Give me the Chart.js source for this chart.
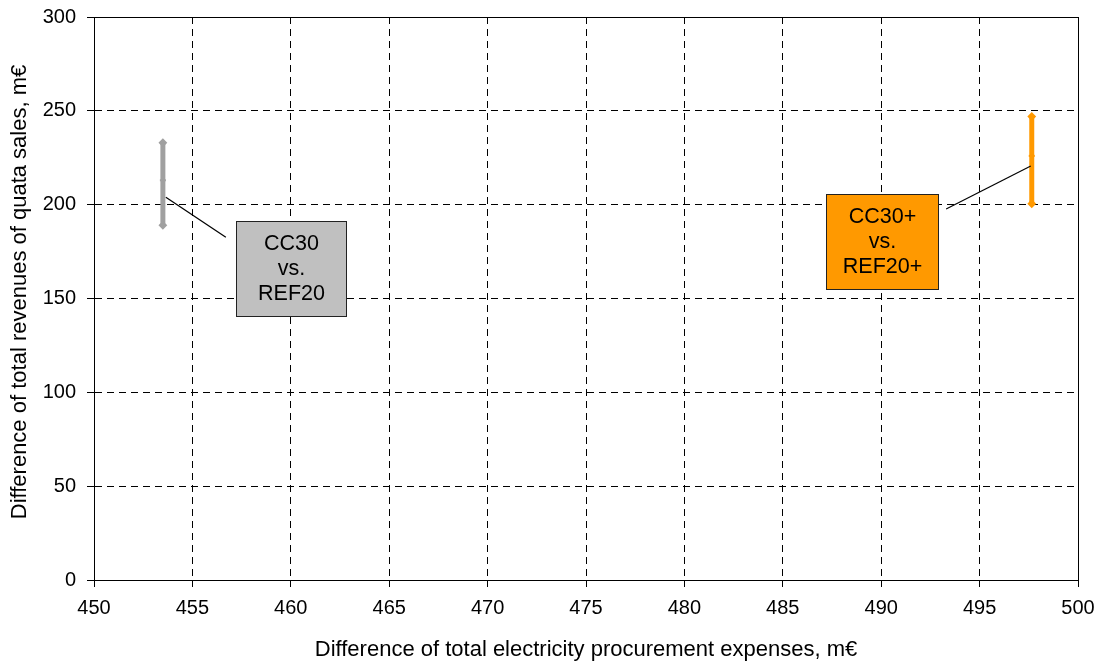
<!DOCTYPE html>
<html>
<head>
<meta charset="utf-8">
<script src="https://cdn.jsdelivr.net/npm/chart.js@4"></script>
<style>
  html, body { margin: 0; padding: 0; background: #fff; }
  #wrap { width: 1107px; height: 667px; }
</style>
</head>
<body>
<div id="wrap"><canvas id="chart" width="1107" height="667"></canvas></div>
<script>
// series values
const seriesNames = ['CC30 vs. REF20', 'CC30+ vs. REF20+'];
const xValues = [453.5, 497.65];
const lowValues = [189, 200.5];
const midValues = [213, 226];
const highValues = [233, 247];
const boxLabels = [['CC30', 'vs.', 'REF20'], ['CC30+', 'vs.', 'REF20+']];
const barColors = ['#a0a0a0', '#ff9900'];
const boxColors = ['#c0c0c0', '#ff9900'];
const yTitle = 'Difference of total revenues of quata sales, m€';
const xTitle = 'Difference of total electricity procurement expenses, m€';

const FONT = '"Liberation Sans", Arial, sans-serif';

const datasets = seriesNames.map((name, i) => ({
    label: name,
    data: [
        {x: xValues[i], y: lowValues[i]},
        {x: xValues[i], y: midValues[i]},
        {x: xValues[i], y: highValues[i]}
    ],
    showLine: true,
    borderColor: barColors[i],
    borderWidth: 5,
    pointStyle: ['rectRot', 'line', 'rectRot'],
    pointRadius: 3,
    pointBorderWidth: 2,
    pointBackgroundColor: barColors[i],
    pointBorderColor: barColors[i]
}));

// callout boxes, frame and the y axis title
const calloutPlugin = {
    id: 'callouts',
    afterDatasetsDraw(chart, args, opts) {
        const ctx = chart.ctx;
        const xs = chart.scales.x, ys = chart.scales.y;
        const a = chart.chartArea;
        ctx.save();
        ctx.strokeStyle = '#000';
        ctx.lineWidth = 1;
        ctx.setLineDash([]);
        ctx.strokeRect(a.left + 0.5, a.top + 0.5, a.right - a.left, a.bottom - a.top);
        opts.boxes.forEach((b, i) => {
            ctx.beginPath();
            ctx.moveTo(xs.getPixelForValue(b.lx1), ys.getPixelForValue(b.ly1));
            ctx.lineTo(xs.getPixelForValue(b.lx2), ys.getPixelForValue(b.ly2));
            ctx.strokeStyle = '#000';
            ctx.lineWidth = 1.2;
            ctx.stroke();
            const x1 = Math.round(xs.getPixelForValue(b.x1)) + 0.5;
            const x2 = Math.round(xs.getPixelForValue(b.x2)) + 0.5;
            const y1 = Math.round(ys.getPixelForValue(b.y1)) + 0.5;
            const y2 = Math.round(ys.getPixelForValue(b.y2)) + 0.5;
            ctx.fillStyle = boxColors[i];
            ctx.fillRect(x1, y1, x2 - x1, y2 - y1);
            ctx.strokeStyle = '#222';
            ctx.lineWidth = 1;
            ctx.strokeRect(x1, y1, x2 - x1, y2 - y1);
            ctx.fillStyle = '#000';
            ctx.font = '21.5px ' + FONT;
            ctx.textAlign = 'center';
            ctx.textBaseline = 'middle';
            const cx = (x1 + x2) / 2, cy = (y1 + y2) / 2;
            const lines = boxLabels[i];
            lines.forEach((t, k) => {
                ctx.fillText(t, cx, cy + (k - (lines.length - 1) / 2) * 25);
            });
        });
        // y axis title
        ctx.translate(opts.yTitleX, opts.yTitleY);
        ctx.rotate(-Math.PI / 2);
        ctx.font = '22px ' + FONT;
        ctx.fillStyle = '#000';
        ctx.textAlign = 'center';
        ctx.textBaseline = 'middle';
        ctx.fillText(yTitle, 0, 0);
        ctx.restore();
    }
};

new Chart(document.getElementById('chart'), {
    type: 'scatter',
    data: {datasets: datasets},
    plugins: [calloutPlugin],
    options: {
        responsive: false,
        animation: false,
        layout: {padding: {top: 17, right: 29, left: 0, bottom: 0}},
        plugins: {
            legend: {display: false},
            tooltip: {enabled: false},
            callouts: {
                yTitleX: 20,
                yTitleY: 292,
                boxes: [
                    {x1: 457.2, x2: 462.8, y1: 191.3, y2: 140.7, lx1: 453.65, ly1: 204, lx2: 456.7, ly2: 182.7},
                    {x1: 487.2, x2: 492.9, y1: 205.6, y2: 155.0, lx1: 497.6, ly1: 220.6, lx2: 493.3, ly2: 197.7}
                ]
            }
        },
        scales: {
            x: {
                type: 'linear',
                min: 450, max: 500,
                afterFit: s => { s.height = 87; },
                ticks: {stepSize: 5, color: '#000', font: {family: FONT, size: 20}, padding: 9, maxRotation: 0},
                grid: {color: '#000', lineWidth: 1, tickLength: 7, tickColor: '#000'},
                border: {color: '#000', width: 1, dash: [7, 5]},
                title: {display: true, text: xTitle, color: '#000', font: {family: FONT, size: 22}, padding: {top: 6}}
            },
            y: {
                type: 'linear',
                min: 0, max: 300,
                afterFit: s => { s.width = 94; s.paddingTop = 0; s.paddingBottom = 0; },
                ticks: {stepSize: 50, color: '#000', font: {family: FONT, size: 20}, padding: 11},
                grid: {color: '#000', lineWidth: 1, tickLength: 7, tickColor: '#000'},
                border: {color: '#000', width: 1, dash: [7, 5]},
                title: {display: false}
            }
        }
    }
});
</script>
</body>
</html>
